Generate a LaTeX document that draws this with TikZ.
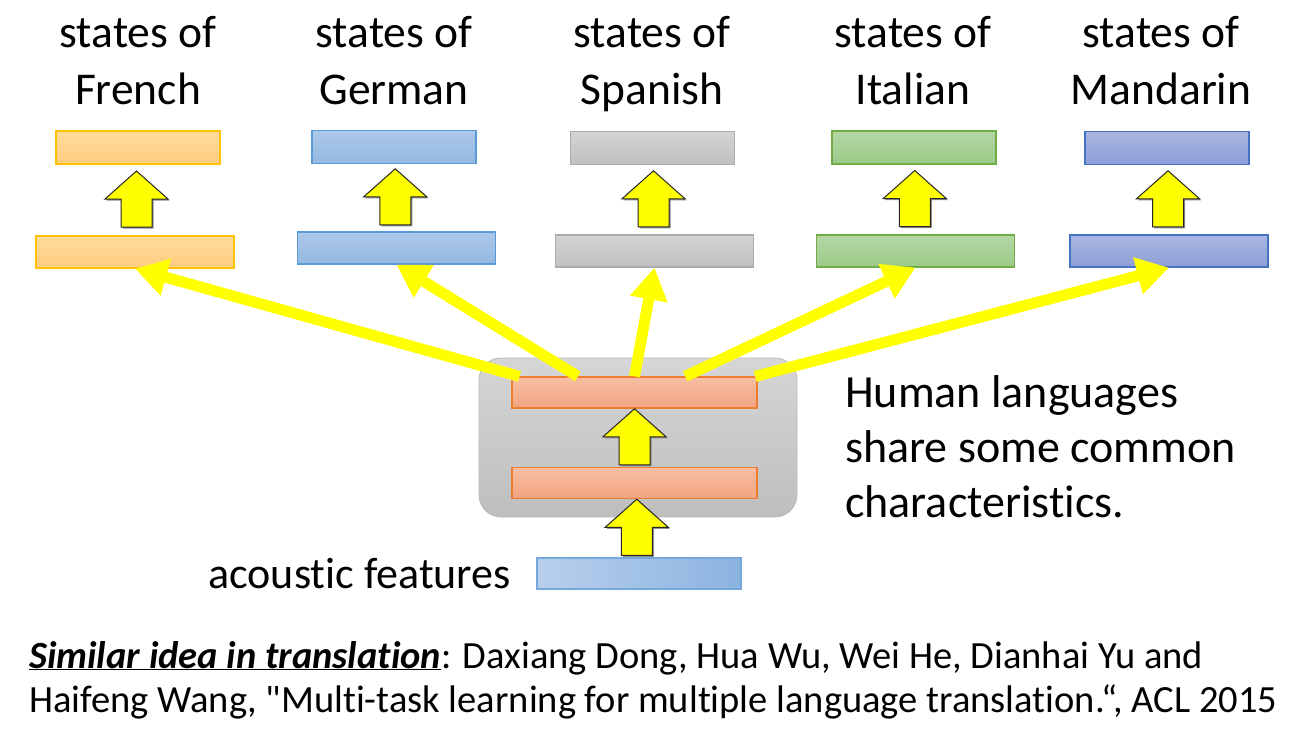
\documentclass[tikz,border=0pt]{standalone}
\usepackage{fontspec}
\setmainfont{Carlito}[Ligatures=NoCommon]
\usetikzlibrary{arrows.meta,calc}

% box colours: top shade, bottom shade, outline
\definecolor{frTop}{RGB}{255,219,155}\definecolor{frBot}{RGB}{255,205,128}\definecolor{frLine}{RGB}{255,192,0}
\definecolor{deTop}{RGB}{172,200,234}\definecolor{deBot}{RGB}{148,184,225}\definecolor{deLine}{RGB}{91,155,213}
\definecolor{esTop}{RGB}{212,212,212}\definecolor{esBot}{RGB}{192,192,192}\definecolor{esLine}{RGB}{172,172,172}
\definecolor{itTop}{RGB}{180,215,165}\definecolor{itBot}{RGB}{156,202,136}\definecolor{itLine}{RGB}{112,173,71}
\definecolor{zhTop}{RGB}{170,182,224}\definecolor{zhBot}{RGB}{140,158,214}\definecolor{zhLine}{RGB}{68,114,196}
\definecolor{orTop}{RGB}{247,190,163}\definecolor{orBot}{RGB}{243,164,127}\definecolor{orLine}{RGB}{237,125,49}
\definecolor{grTop}{RGB}{214,214,214}\definecolor{grBot}{RGB}{190,190,190}\definecolor{grLine}{RGB}{186,186,186}
\definecolor{acLeft}{RGB}{184,207,236}\definecolor{acRight}{RGB}{140,179,225}\definecolor{acLine}{RGB}{118,168,220}
\definecolor{arrowYellow}{RGB}{255,255,0}

\tikzset{
  x=1pt, y=-1pt,
  layer/.style={rectangle, inner sep=0pt, line width=1.2pt},
  upper/.style={layer, minimum width=164, minimum height=33},
  lower/.style={layer, minimum width=198, minimum height=32},
  shared/.style={layer, minimum width=245, minimum height=31,
    top color=orTop, bottom color=orBot, draw=orLine},
  frbox/.style={top color=frTop, bottom color=frBot, draw=frLine},
  debox/.style={top color=deTop, bottom color=deBot, draw=deLine},
  esbox/.style={top color=esTop, bottom color=esBot, draw=esLine},
  itbox/.style={top color=itTop, bottom color=itBot, draw=itLine},
  zhbox/.style={top color=zhTop, bottom color=zhBot, draw=zhLine},
  heading/.style={align=center, inner sep=0pt, anchor=base,
    font=\fontsize{45.5}{57}\selectfont},
  fanarrow/.style={draw=arrowYellow, line width=11pt,
    -{Triangle[length=32pt,width=36pt]}},
  blockup/.pic={
    \fill[black!45] (1.5,-26.5) -- (33,1.5) -- (17,1.5) -- (17,29.5)
      -- (-14,29.5) -- (-14,1.5) -- (-30,1.5) -- cycle;
    \draw[fill=arrowYellow, draw=black!85, line width=1pt, line join=miter]
      (0,-28) -- (31.5,0) -- (15.5,0) -- (15.5,28) -- (-15.5,28)
      -- (-15.5,0) -- (-31.5,0) -- cycle;
  }
}

\begin{document}
\begin{tikzpicture}
\useasboundingbox (0,0) rectangle (1313,737);

% headings (anchored on the baseline of their last line)
\node[heading] (hfr) at (138,104)  {states of\\French};
\node[heading] (hde) at (394,104)  {states of\\German};
\node[heading] (hes) at (652,104)  {states of\\Spanish};
\node[heading] (hit) at (913,104)  {states of\\Italian};
\node[heading] (hzh) at (1161,104) {states of\\Mandarin};

% language-specific layers
\node[upper, frbox] (frt) at (138,147.5) {};
\node[lower, frbox] (frb) at (135,252)   {};
\node[upper, debox] (det) at (394,147)   {};
\node[lower, debox] (deb) at (396.5,248) {};
\node[upper, esbox] (est) at (652.5,148) {};
\node[lower, esbox] (esb) at (654.5,251) {};
\node[upper, itbox] (itt) at (914,147.5) {};
\node[lower, itbox] (itb) at (915.5,251) {};
\node[upper, zhbox] (zht) at (1167,148)  {};
\node[lower, zhbox] (zhb) at (1169,251)  {};

% shared block
\node[layer, minimum width=318, minimum height=159, rounded corners=22pt,
      top color=grTop, bottom color=grBot, draw=grLine, line width=0.8pt]
      (shared) at (638,437.5) {};
\node[shared] (ot) at (634.5,392.5) {};
\node[shared] (ob) at (634.5,483)   {};

% input features
\node[layer, minimum width=204, minimum height=31, left color=acLeft,
      right color=acRight, draw=acLine] (ac) at (639,573.5) {};
\node[anchor=base east, inner sep=0pt, font=\fontsize{44}{55}\selectfont]
      (aclbl) at (511,588) {acoustic features};

% block arrows between stacked layers
\foreach \t/\b in {frt/frb, det/deb, est/esb, itt/itb, zht/zhb, ot/ob, ob/ac}
  \path ($(\t.south)!0.5!(\b.north)+(0,-1)$) pic {blockup};

% fan-out from the shared layer
\draw[fanarrow] ($(ot.north west)!0.033!(ot.north east)$) -- (frb.south);
\draw[fanarrow] ($(ot.north west)!0.27!(ot.north east)$)  -- (deb.south);
\draw[fanarrow] ($(ot.north west)!0.5!(ot.north east)$)   -- (esb.south);
\draw[fanarrow] ($(ot.north west)!0.706!(ot.north east)$) -- (itb.south);
\draw[fanarrow] ($(ot.north west)!0.99!(ot.north east)$)  -- (zhb.south);

% side note
\node[anchor=base west, align=left, inner sep=0pt,
      font=\fontsize{46}{55}\selectfont] (note) at (845,517)
      {Human languages\\share some common\\characteristics.};

% reference
\node[anchor=base west, align=left, inner sep=0pt,
      font=\fontsize{38.5}{44}\selectfont] (ref) at (29,712)
      {\underline{\textbf{\textit{Similar idea in translation}}}: Daxiang Dong, Hua Wu, Wei He, Dianhai Yu and\\
       Haifeng Wang, \textquotedbl Multi-task learning for multiple language translation.“, ACL 2015};
\end{tikzpicture}
\end{document}
